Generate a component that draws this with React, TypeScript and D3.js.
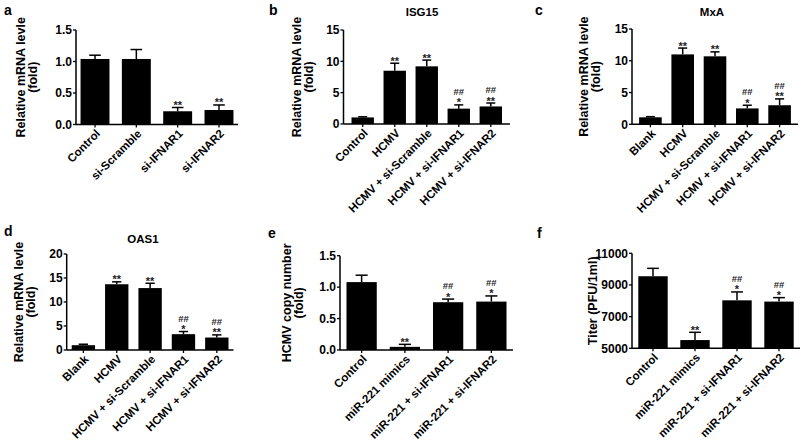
import React from "react";
import * as d3 from "d3";

// ---------- data ----------
const catsA = ["Control", "si-Scramble", "si-IFNAR1", "si-IFNAR2"];
const valsA = [1.04, 1.04, 0.21, 0.23];
const errsA = [0.06, 0.15, 0.06, 0.08];
const starsA = ["", "", "**", "**"];
const hashA = ["", "", "", ""];

const catsB = ["Control", "HCMV", "HCMV + si-Scramble", "HCMV + si-IFNAR1", "HCMV + si-IFNAR2"];
const valsB = [1.05, 8.5, 9.2, 2.45, 2.8];
const errsB = [0.1, 1.2, 1.0, 0.6, 0.55];
const starsB = ["", "**", "**", "*", "**"];
const hashB = ["", "", "", "##", "##"];

const catsC = ["Blank", "HCMV", "HCMV + si-Scramble", "HCMV + si-IFNAR1", "HCMV + si-IFNAR2"];
const valsC = [1.1, 11.0, 10.7, 2.5, 3.0];
const errsC = [0.1, 1.0, 0.7, 0.5, 1.0];
const starsC = ["", "**", "**", "*", "**"];
const hashC = ["", "", "", "##", "##"];

const catsD = ["Blank", "HCMV", "HCMV + si-Scramble", "HCMV + si-IFNAR1", "HCMV + si-IFNAR2"];
const valsD = [1.0, 13.7, 12.9, 3.3, 2.6];
const errsD = [0.2, 0.5, 1.0, 0.55, 0.55];
const starsD = ["", "**", "**", "*", "**"];
const hashD = ["", "", "", "##", "##"];

const catsE = ["Control", "miR-221 mimics", "miR-221 + si-IFNAR1", "miR-221 + si-IFNAR2"];
const valsE = [1.08, 0.05, 0.76, 0.77];
const errsE = [0.11, 0.04, 0.05, 0.09];
const starsE = ["", "**", "*", "*"];
const hashE = ["", "", "##", "##"];

const catsF = ["Control", "miR-221 mimics", "miR-221 + si-IFNAR1", "miR-221 + si-IFNAR2"];
const valsF = [9550, 5520, 8030, 7950];
const errsF = [500, 490, 530, 250];
const starsF = ["", "**", "*", "*"];
const hashF = ["", "", "##", "##"];

const ticksA = [0, 0.5, 1.0, 1.5];
const ticksB = [0, 5, 10, 15];
const ticksD = [0, 5, 10, 15, 20];
const ticksF = [5000, 7000, 9000, 11000];

// ---------- layout ----------
type PanelCfg = {
  letter: string;
  title: string;
  ylabel: string[];
  cats: string[];
  vals: number[];
  errs: number[];
  stars: string[];
  hashes: string[];
  domain: [number, number];
  ticks: number[];
  fmt: (v: number) => string;
  x0: number;
  x1: number;
  y0: number;
  y1: number;
  po: number;
  letterPos: [number, number];
  titleX: number;
  titleY: number;
  labelX: number;
};

const f1 = d3.format(".1f");
const f0 = d3.format("d");
const RML = ["Relative mRNA levle", "(fold)"];

const panels: PanelCfg[] = [
  { letter: "a", title: "", ylabel: RML, cats: catsA, vals: valsA, errs: errsA, stars: starsA, hashes: hashA,
    domain: [0, 1.5], ticks: ticksA, fmt: f1, x0: 76, x1: 238, y0: 124.5, y1: 30, po: 0.11,
    letterPos: [4, 15], titleX: 0, titleY: 0, labelX: 37 },
  { letter: "b", title: "ISG15", ylabel: RML, cats: catsB, vals: valsB, errs: errsB, stars: starsB, hashes: hashB,
    domain: [0, 15], ticks: ticksB, fmt: f0, x0: 343.5, x1: 510, y0: 124, y1: 30, po: 0.25,
    letterPos: [269, 15], titleX: 422, titleY: 16, labelX: 313 },
  { letter: "c", title: "MxA", ylabel: RML, cats: catsC, vals: valsC, errs: errsC, stars: starsC, hashes: hashC,
    domain: [0, 15], ticks: ticksB, fmt: f0, x0: 632, x1: 798, y0: 124.3, y1: 29, po: 0.22,
    letterPos: [535, 15], titleX: 712, titleY: 16, labelX: 600 },
  { letter: "d", title: "OAS1", ylabel: RML, cats: catsD, vals: valsD, errs: errsD, stars: starsD, hashes: hashD,
    domain: [0, 20], ticks: ticksD, fmt: f0, x0: 66.7, x1: 233.5, y0: 350, y1: 254, po: 0.15,
    letterPos: [4, 236], titleX: 143, titleY: 243, labelX: 35 },
  { letter: "e", title: "", ylabel: ["HCMV copy number", "(fold)"], cats: catsE, vals: valsE, errs: errsE, stars: starsE, hashes: hashE,
    domain: [0, 1.5], ticks: ticksA, fmt: f1, x0: 340, x1: 513, y0: 350, y1: 255.7, po: 0.15,
    letterPos: [268, 238], titleX: 0, titleY: 0, labelX: 303 },
  { letter: "f", title: "", ylabel: ["Titer (PFU/1ml)"], cats: catsF, vals: valsF, errs: errsF, stars: starsF, hashes: hashF,
    domain: [5000, 11000], ticks: ticksF, fmt: f0, x0: 632, x1: 800, y0: 348.3, y1: 253.3, po: 0.15,
    letterPos: [537, 238], titleX: 0, titleY: 0, labelX: 597 },
];

const FONT = "'Liberation Sans', Arial, Helvetica, sans-serif";

function Panel({ p }: { p: PanelCfg }) {
  const x = d3.scaleBand<string>().domain(p.cats).range([p.x0, p.x1]).paddingInner(0.3).paddingOuter(p.po);
  const y = d3.scaleLinear().domain(p.domain).range([p.y0, p.y1]);
  const bw = x.bandwidth();
  const cap = bw * 0.4;
  const midY = (p.y0 + p.y1) / 2;
  return (
    <g fontFamily={FONT} fontWeight="bold">
      <text x={p.letterPos[0]} y={p.letterPos[1]} fontSize={14}>{p.letter}</text>
      {p.title && (
        <text x={p.titleX} y={p.titleY} fontSize={11.5} textAnchor="middle">{p.title}</text>
      )}
      {p.ylabel.map((l, i) => (
        <text key={i}
          transform={`translate(${p.labelX + (i - (p.ylabel.length - 1)) * 12},${midY}) rotate(-90)`}
          fontSize={12.5} textAnchor="middle">{l}</text>
      ))}
      {/* bars */}
      {p.cats.map((c, i) => {
        const bx = x(c)!;
        const top = y(p.vals[i]);
        const et = y(p.vals[i] + p.errs[i]);
        const cx = bx + bw / 2;
        return (
          <g key={c}>
            <line x1={cx} x2={cx} y1={top} y2={et} stroke="#000" strokeWidth={1.5} />
            <line x1={cx - cap / 2} x2={cx + cap / 2} y1={et} y2={et} stroke="#000" strokeWidth={1.5} />
            <rect x={bx} y={top} width={bw} height={p.y0 - top} fill="#000" />
            {p.stars[i] && (
              <text x={cx} y={et + 1.5} textAnchor="middle" fontSize={11} fill="#222">{p.stars[i]}</text>
            )}
            {p.hashes[i] && (
              <text x={cx} y={et - 10} textAnchor="middle" fontSize={9.5} fill="#222">{p.hashes[i]}</text>
            )}
            <line x1={cx} x2={cx} y1={p.y0} y2={p.y0 + 3} stroke="#000" strokeWidth={1.3} />
            <text transform={`translate(${cx + 3},${p.y0 + 7}) rotate(-45)`} textAnchor="end" dy="0.35em" fontSize={11.5}>{c}</text>
          </g>
        );
      })}
      {/* axes */}
      <line x1={p.x0} x2={p.x0} y1={p.y0} y2={p.y1} stroke="#000" strokeWidth={1.5} />
      <line x1={p.x0} x2={p.x1} y1={p.y0} y2={p.y0} stroke="#000" strokeWidth={1.5} />
      {p.ticks.map((t) => (
        <g key={t}>
          <line x1={p.x0 - 3} x2={p.x0} y1={y(t)} y2={y(t)} stroke="#000" strokeWidth={1.3} />
          <text x={p.x0 - 4} y={y(t)} dy="0.35em" textAnchor="end" fontSize={12}>{p.fmt(t)}</text>
        </g>
      ))}
    </g>
  );
}

export default function App() {
  return (
    <svg width={800} height={441} style={{ position: "absolute", left: 0, top: 0, background: "#fff" }}>
      <rect width={800} height={441} fill="#fff" />
      {panels.map((p) => (
        <Panel key={p.letter} p={p} />
      ))}
    </svg>
  );
}
